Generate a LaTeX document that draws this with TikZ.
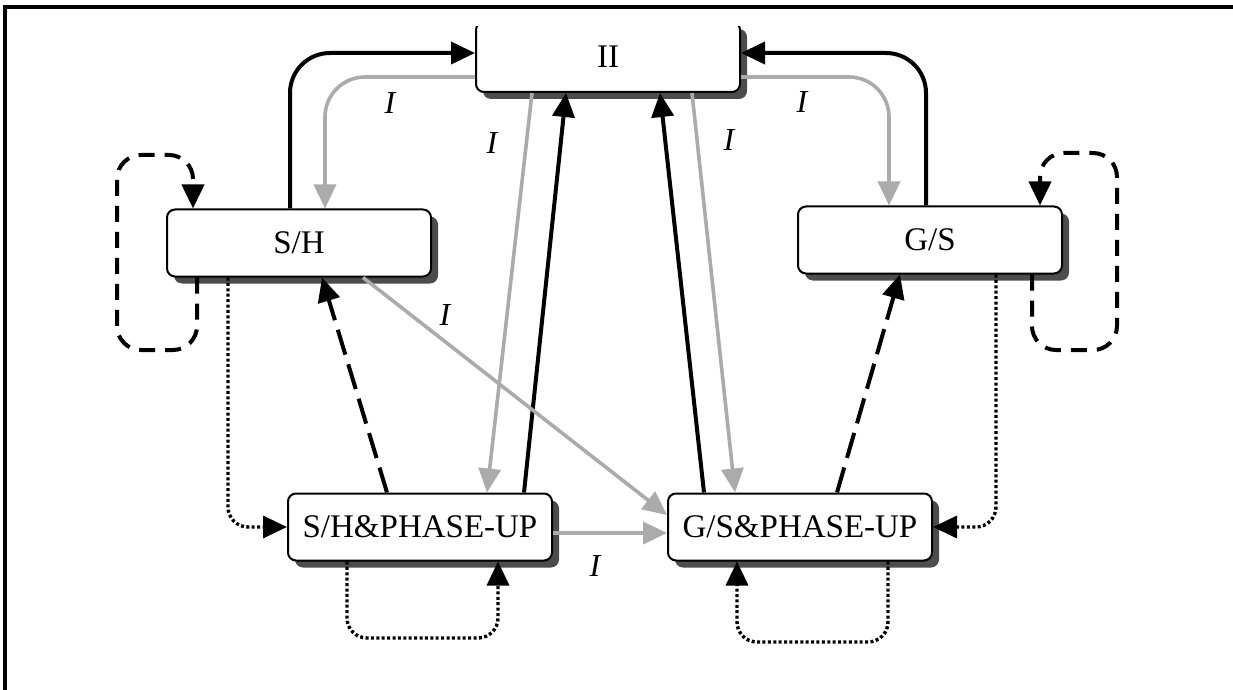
\documentclass[tikz,border=0pt]{standalone}
\usepackage{fontspec}
\setmainfont{Liberation Serif}
\usetikzlibrary{positioning}
\usetikzlibrary{shadows}
\usetikzlibrary{arrows.meta}

\begin{document}
\begin{tikzpicture}[
x=0.5pt, y=-0.5pt,
statenode/.style={rectangle, rounded corners=4pt, draw=black, fill=white, line width=1pt, minimum width=132pt, minimum height=33.5pt, align=center, font=\fontsize{16.5}{19}\selectfont, drop shadow={shadow xshift=3.5pt, shadow yshift=-3.5pt, fill=black!70, opacity=1}},
labelnode/.style={font=\fontsize{16}{19}\selectfont\itshape, inner sep=0pt},
blackarrow/.style={draw=black, line width=2pt, -{Triangle[length=12pt,width=11pt]}},
grayarrow/.style={draw=black!33, line width=1.8pt, -{Triangle[length=12pt,width=11pt]}},
loopdash/.style={draw=black, line width=2pt, dash pattern=on 8pt off 5pt, rounded corners=12pt, -{Triangle[length=12pt,width=11pt]}},
longdash/.style={draw=black, line width=2pt, dash pattern=on 13pt off 5pt, -{Triangle[length=12pt,width=11pt]}},
dotline/.style={draw=black, line width=1.7pt, dash pattern=on 1.5pt off 1.2pt, rounded corners=10pt, -{Triangle[length=12pt,width=11pt]}},
]
\useasboundingbox (0,0) rectangle (1233,690);
\draw[line width=2pt] (5,690) -- (5,7) -- (1233,7);

%Nodes
\begin{scope}
\clip (0,27) rectangle (1233,690);
\node[statenode, minimum height=35pt]	(ii)	at (608,57)	{II};
\end{scope}
\node[statenode]		(sh)		at (299,243)		{S/H};
\node[statenode]		(gs)		at (930,240)		{G/S};
\node[statenode]		(shp)		at (420,527)		{S/H\&PHASE-UP};
\node[statenode]		(gsp)		at (800,527)		{G/S\&PHASE-UP};

%Labels
\node[labelnode]		(lsh)		at (390,103)		{I};
\node[labelnode]		(lshp)		at (492,143)		{I};
\node[labelnode]		(lgs)		at (802,102)		{I};
\node[labelnode]		(lgsp)		at (729,140)		{I};
\node[labelnode]		(ldiag)		at (445,315)		{I};
\node[labelnode]		(lside)		at (595,566)		{I};

%Lines
\draw[blackarrow, rounded corners=20pt] (290,0 |- sh.north) |- (ii.west |- 0,53);
\draw[grayarrow, rounded corners=20pt] (ii.west |- 0,77) -| (325,0 |- sh.north);
\draw[grayarrow] (532,0 |- ii.south) -- (487,0 |- shp.north);
\draw[blackarrow] (524,0 |- shp.north) -- (566,0 |- ii.south);
\draw[blackarrow, rounded corners=20pt] (926,0 |- gs.north) |- (ii.east |- 0,53);
\draw[grayarrow, rounded corners=20pt] (ii.east |- 0,77) -| (889,0 |- gs.north);
\draw[grayarrow] (692,0 |- ii.south) -- (735,0 |- gsp.north);
\draw[blackarrow] (704,0 |- gsp.north) -- (660,0 |- ii.south);

\draw[loopdash] (197,0 |- sh.south) -- (197,350) -- (117,350) -- (117,155) -- (193,155) -- (193,0 |- sh.north);
\draw[loopdash] (1032,0 |- gs.south) -- (1032,350) -- (1117,350) -- (1117,153) -- (1040,153) -- (1040,0 |- gs.north);
\draw[longdash] (387,0 |- shp.north) -- (322,0 |- sh.south);
\draw[longdash] (837,0 |- gsp.north) -- (900,0 |- gs.south);

\draw[dotline] (228,0 |- sh.south) |- (shp.west);
\draw[dotline] (996,0 |- gs.south) |- (gsp.east);
\draw[dotline] (347,0 |- shp.south) -- (347,638) -- (498,638) -- (498,0 |- shp.south);
\draw[dotline] (888,0 |- gsp.south) -- (888,642) -- (737,642) -- (737,0 |- gsp.south);

\draw[grayarrow] (363,0 |- sh.south) -- (gsp.west |- 0,515);
\draw[grayarrow] (shp.east |- 0,533) -- (gsp.west |- 0,533);
\end{tikzpicture}
\end{document}
